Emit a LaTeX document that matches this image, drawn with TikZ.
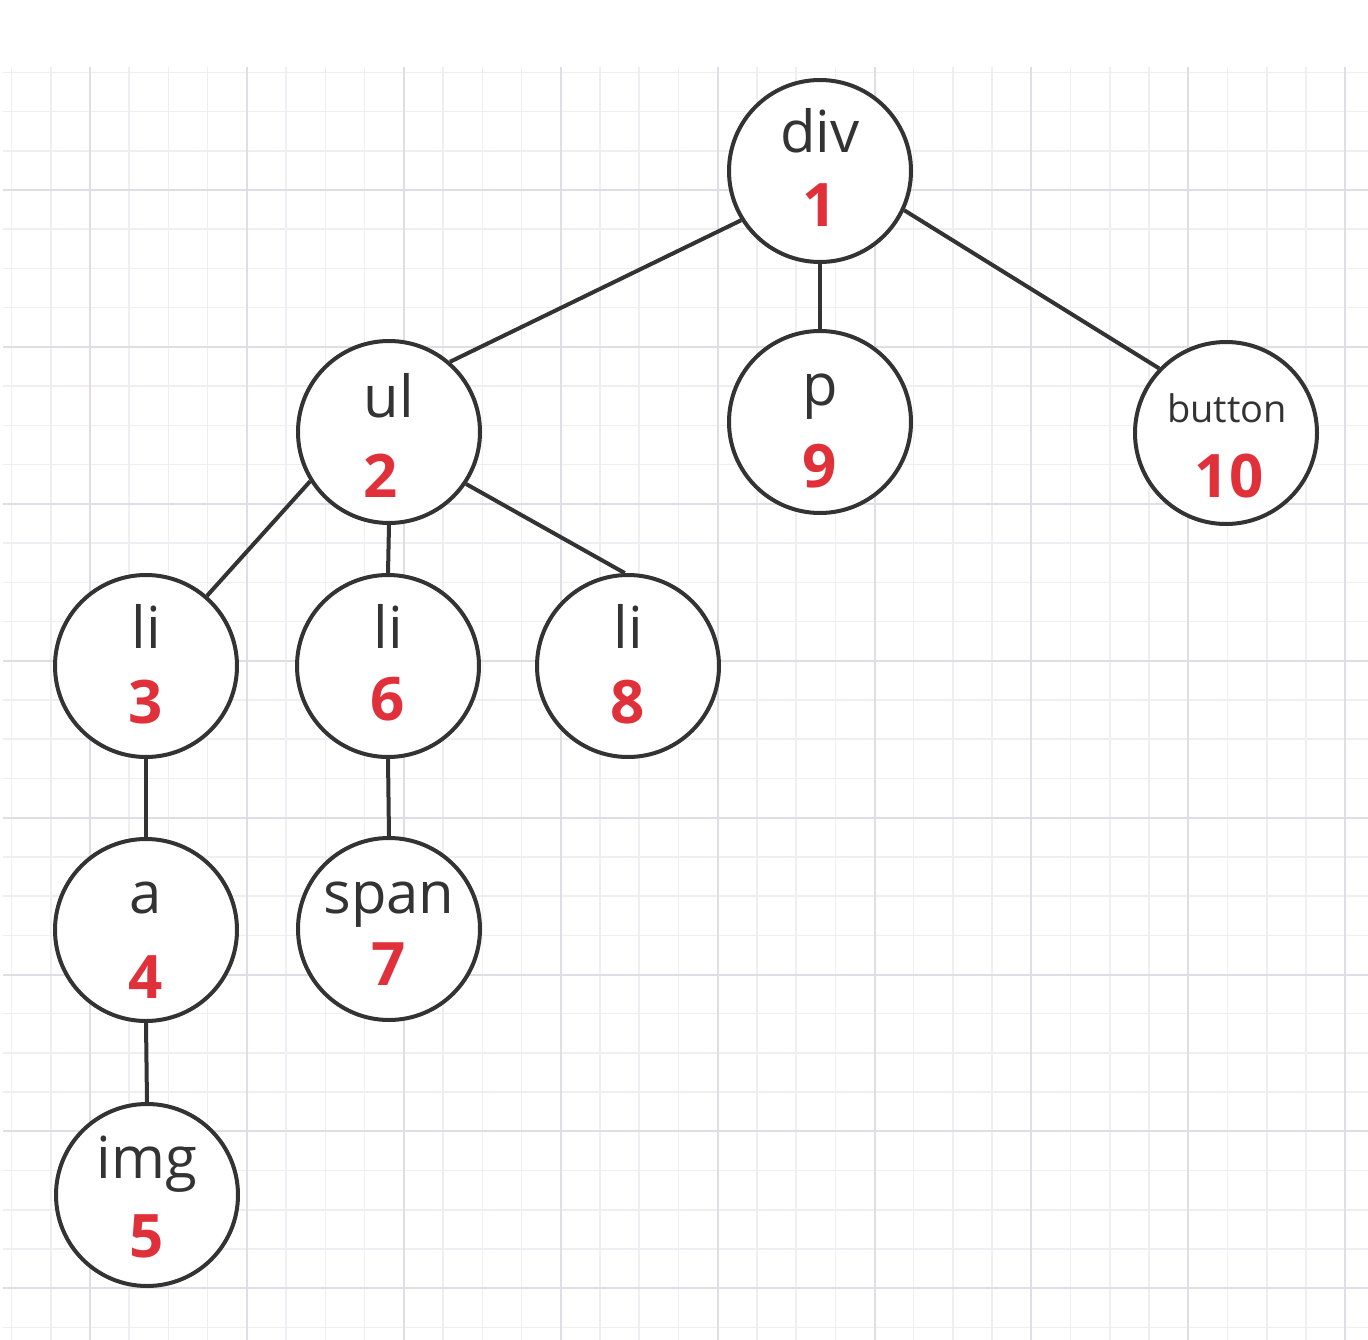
\documentclass[tikz,border=0pt]{standalone}
\usepackage{fontspec}
\setmainfont{Open Sans}
\definecolor{edgec}{HTML}{333333}
\definecolor{labc}{HTML}{333333}
\definecolor{numc}{HTML}{E0303A}
\definecolor{gridminor}{RGB}{240,238,242}
\definecolor{gridmajor}{RGB}{224,222,228}
\tikzset{
  nd/.style={circle, draw=edgec, line width=4pt, fill=white, minimum size=182pt, inner sep=0pt},
  tag/.style={anchor=base, text=labc, inner sep=0pt, font=\fontsize{58}{60}\selectfont},
  smalltag/.style={anchor=base, text=labc, inner sep=0pt, font=\fontsize{38}{40}\selectfont},
  num/.style={anchor=base, text=numc, inner sep=0pt, font=\fontsize{60}{62}\selectfont\bfseries},
  link/.style={draw=edgec, line width=4pt},
  gminor/.style={draw=gridminor, line width=1.5pt},
  gmajor/.style={draw=gridmajor, line width=2pt}
}
\begin{document}
\begin{tikzpicture}[x=1pt, y=-1pt]
\useasboundingbox (0,0) rectangle (1368,1340);
\fill[white] (0,0) rectangle (1368,1340);
% grid
\foreach \k in {-2,...,32} {\draw[gminor] ({90+39.225*\k},67) -- ({90+39.225*\k},1340);}
\foreach \k in {-3,...,29} {\draw[gminor] (3,{190+39.225*\k}) -- (1368,{190+39.225*\k});}
\foreach \k in {0,...,8} {\draw[gmajor] ({90+156.9*\k},67) -- ({90+156.9*\k},1340);}
\foreach \k in {0,...,7} {\draw[gmajor] (3,{190+156.9*\k}) -- (1368,{190+156.9*\k});}
% nodes
\node[nd] (n1) at (820,171) {};
\node[nd] (n2) at (389,432) {};
\node[nd] (n9) at (820,422) {};
\node[nd] (n10) at (1226,433) {};
\node[nd] (n3) at (146,666) {};
\node[nd] (n6) at (388,666) {};
\node[nd] (n8) at (628,666) {};
\node[nd] (n4) at (146,930) {};
\node[nd] (n7) at (389,929) {};
\node[nd] (n5) at (147,1195) {};
% edges
\draw[link] (n1.212) -- (n2.49);
\draw[link] (n1.-90) -- (n9.90);
\draw[link] (n1.-25) -- (n10.136);
\draw[link] (n2.212) -- (n3.49);
\draw[link] (n2.-90) -- (n6.90);
\draw[link] (n2.-34) -- (n8.92);
\draw[link] (n3.-90) -- (n4.90);
\draw[link] (n6.-90) -- (n7.90);
\draw[link] (n4.-90) -- (n5.90);
% labels
\node[tag] (l1) at (820,153) {div};
\node[num] (c1) at (820,227) {1};
\node[tag] (l2) at (389,417) {ul};
\node[num] (c2) at (381,497) {2};
\node[tag] (l9) at (820,405) {p};
\node[num] (c9) at (820,487) {9};
\node[smalltag] (l10) at (1227,422) {button};
\node[num] (c10) at (1229,497) {10};
\node[tag] (l3) at (146,648) {li};
\node[num] (c3) at (146,723) {3};
\node[tag] (l6) at (388,648) {li};
\node[num] (c6) at (388,720) {6};
\node[tag] (l8) at (628,648) {li};
\node[num] (c8) at (628,723) {8};
\node[tag] (l4) at (146,913) {a};
\node[num] (c4) at (146,998) {4};
\node[tag] (l7) at (389,913) {span};
\node[num] (c7) at (389,985) {7};
\node[tag] (l5) at (147,1178) {img};
\node[num] (c5) at (147,1257) {5};
\end{tikzpicture}
\end{document}
